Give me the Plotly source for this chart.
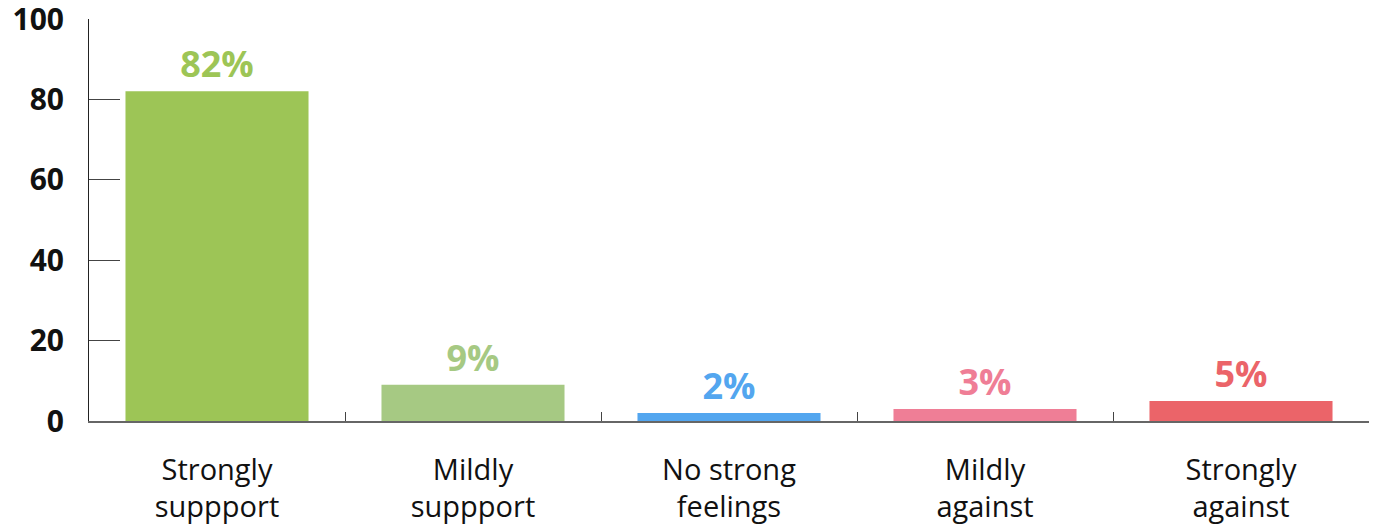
import plotly.graph_objects as go

categories = ["Strongly<br>suppport", "Mildly<br>suppport", "No strong<br>feelings", "Mildly<br>against", "Strongly<br>against"]
values = [82, 9, 2, 3, 5]
labels = ["82%", "9%", "2%", "3%", "5%"]
bar_colors = ["#9DC556", "#A6C983", "#53A6EF", "#EF7E96", "#EB6469"]
y_ticks = [0, 20, 40, 60, 80, 100]

fig = go.Figure(go.Bar(
    x=categories, y=values, text=labels, textposition="outside",
    marker=dict(color=bar_colors, line=dict(width=0)),
    textfont=dict(family="Open Sans", size=36, color=bar_colors, weight="bold"),
    cliponaxis=False, hoverinfo="skip",
))

fig.update_layout(
    width=1381, height=529,
    margin=dict(l=81, r=20, t=11, b=116),
    paper_bgcolor="white", plot_bgcolor="white",
    bargap=0.285, showlegend=False,
    font=dict(family="Open Sans", color="#111"),
)
fig.update_yaxes(
    range=[0, 100], tickvals=y_ticks, showgrid=False, zeroline=False,
    showline=True, linecolor="#222", linewidth=1,
    ticks="inside", ticklen=31, tickcolor="#444", tickwidth=1,
    tickfont=dict(family="Open Sans", size=30, color="#111", weight="bold"),
    ticklabelstandoff=18, automargin=False, ticklabeloverflow="allow",
)
fig.update_xaxes(
    showgrid=False, showline=True, linecolor="#666", linewidth=1.5,
    ticks="inside", tickson="boundaries", ticklen=9, tickcolor="#444",
    tickfont=dict(family="Open Sans", size=29, color="#111"),
    ticklabelstandoff=22, automargin=False, ticklabeloverflow="allow",
)

fig.write_html("out.html")
